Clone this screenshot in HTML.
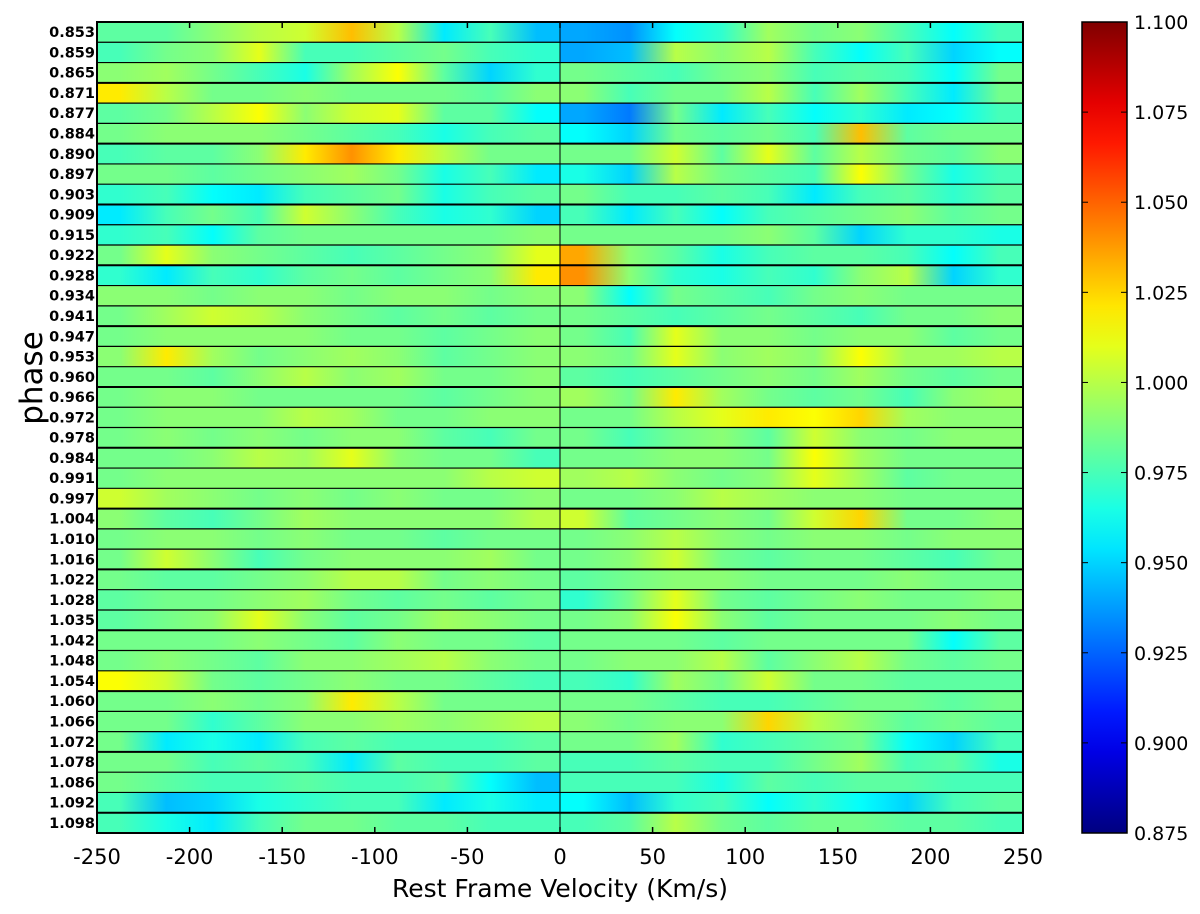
<!DOCTYPE html>
<html><head><meta charset="utf-8">
<style>
html,body{margin:0;padding:0;background:#fff;}
svg{display:block;font-family:"DejaVu Sans","Liberation Sans",sans-serif;}
</style></head>
<body>
<svg id="chart" width="1200" height="914" viewBox="0 0 1200 914">
<defs id="defs"></defs>
<g id="cells"></g>
<g id="grid"></g>
<g id="axes"></g>
<g id="cbar"></g>
</svg>
<script>
const phases = ["0.853","0.859","0.865","0.871","0.877","0.884","0.890","0.897","0.903","0.909","0.915","0.922","0.928","0.934","0.941","0.947","0.953","0.960","0.966","0.972","0.978","0.984","0.991","0.997","1.004","1.010","1.016","1.022","1.028","1.035","1.042","1.048","1.054","1.060","1.066","1.072","1.078","1.086","1.092","1.098"];
const velocityBins = [-237.5,-212.5,-187.5,-162.5,-137.5,-112.5,-87.5,-62.5,-37.5,-12.5,12.5,37.5,62.5,87.5,112.5,137.5,162.5,187.5,212.5,237.5];
const xTicks = [-250,-200,-150,-100,-50,0,50,100,150,200,250];
const cbarTicks = ["0.875","0.900","0.925","0.950","0.975","1.000","1.025","1.050","1.075","1.100"];
const flux = [
[.98,.98,.99,1.0,1.005,1.03,1.0,.955,.975,.945, .94,.935,.96,.97,.995,.985,.99,.975,.96,.975],
[.975,.985,.99,1.01,.975,.975,.98,.985,.975,.97, .94,.945,1.0,.99,1.0,.975,.96,.975,.95,.96],
[.99,.995,.985,.975,.965,.995,1.015,.98,.95,.97, .985,.98,.975,.985,.99,.975,.98,.975,.96,.985],
[1.02,1.0,.985,.985,.99,.985,.985,.985,.98,.99, .99,.975,.985,.985,1.0,.975,.995,.975,.955,.985],
[.98,.985,1.0,1.015,.99,1.005,1.01,.98,.98,.96, .94,.93,.985,.955,.975,.96,.97,.955,.96,.975],
[.985,.99,.99,.99,.985,.98,.975,.965,.975,.98, .96,.95,.985,.98,.985,.975,1.03,.98,.985,.985],
[.975,.98,.98,.99,1.02,1.04,1.02,1.0,.985,.985, .985,.985,1.005,.98,1.01,.98,1.0,.985,.98,.99],
[.985,.985,.98,.985,.99,.995,.985,.965,.975,.955, .965,.95,1.0,.985,.98,.975,1.015,.985,.965,.975],
[.97,.975,.96,.955,.975,.98,.985,.965,.975,.98, .985,.975,.975,.98,.975,.955,.975,.98,.97,.98],
[.955,.975,.985,.975,1.005,.99,.975,.965,.97,.95, .975,.955,.975,.96,.975,.98,.985,.99,.98,.985],
[.97,.975,.96,.98,.985,.985,.985,.985,.985,.99, .985,.985,.985,.985,.99,.98,.95,.97,.97,.965],
[.985,1.01,.99,.985,.98,.975,.98,.985,.99,1.01, 1.035,.99,.98,.965,.975,.98,.98,.975,.96,.975],
[.97,.955,.975,.97,.98,.985,.98,.985,.99,1.02, 1.04,.99,.97,.965,.975,.97,.99,1.0,.95,.97],
[.99,.99,.985,.99,.99,.985,.99,.99,.985,.99, .99,.96,.985,.98,.975,.985,.99,.985,.985,.985],
[.985,.995,1.005,1.0,.99,.985,.98,.985,.98,.985, .985,.98,.975,.98,.985,.98,.975,.985,.985,.99],
[.985,.99,.99,.99,.99,.985,.985,.98,.985,.99, .985,.975,1.01,.99,.99,.985,.99,.99,.98,.985],
[.99,1.02,.995,.985,.99,.995,.99,.98,.985,.99, .99,.985,1.01,.99,.995,.99,1.015,.995,.995,1.0],
[.985,.985,.98,.99,1.0,.99,.995,.985,.985,.99, .98,.975,.98,.985,.99,.985,.995,.985,.98,.985],
[.985,.99,.99,.985,.985,.985,.985,.98,.985,.99, .995,.985,1.02,.995,.985,.98,.985,.975,.99,.995],
[.985,.99,.99,.99,1.0,.995,.985,.985,.99,.99, .985,.985,1.0,1.01,1.02,1.015,1.025,.995,.99,.99],
[.985,.99,.985,.99,.985,.99,.99,.98,.975,.985, .985,.975,.985,.99,.98,1.005,.99,.985,.99,.99],
[.985,.985,.99,1.0,.995,1.01,.99,.985,.985,.975, .985,.985,.99,.99,.985,1.015,.995,.985,.985,.985],
[.985,.99,.99,.99,.99,.99,.99,.99,1.0,1.005, .995,1.0,.99,.985,.99,1.01,.995,.98,.985,.985],
[1.005,.995,.99,.985,.99,.985,.99,.985,.985,.99, .985,.985,.99,1.0,.995,.99,.99,.985,.985,.985],
[.99,.98,.975,.985,.995,.99,.99,.99,.99,1.0, 1.005,.98,.985,.99,.985,1.005,1.025,.985,.985,.99],
[.985,.99,.99,.985,.99,.985,.985,.98,.985,.985, .985,.99,1.0,.99,.985,.99,.99,.985,.99,.99],
[.985,1.005,.99,.975,.985,.99,.99,.99,.995,.985, .985,.99,1.005,.985,.98,.985,.985,.98,.975,.985],
[.985,.98,.98,.985,.99,1.0,1.0,.985,.99,.985, .98,.985,.99,.99,.985,.985,.985,.99,.985,.985],
[.98,.985,.985,.99,.995,.985,.98,.985,.98,.985, .97,.985,1.01,.985,.98,.985,.99,.985,.985,.99],
[.98,.985,.99,1.01,.99,.98,.985,.995,.99,.985, .985,.99,1.015,.99,.98,.985,.985,.985,.99,.985],
[.985,.985,.985,.99,.985,.98,.99,.985,.985,.98, .985,.985,.985,.98,.985,.985,.985,.985,.96,.98],
[.985,.99,.985,.98,.99,.99,.995,1.0,.99,.985, .985,.99,.99,1.0,.98,.99,1.0,.985,.98,.985],
[1.015,1.005,.985,.98,.985,.99,.985,.985,.98,.975, .975,.97,.995,.985,1.005,.985,.985,.98,.98,.98],
[.985,.985,.99,.985,.99,1.02,1.0,.985,.985,.985, .985,.985,.98,.975,.975,.98,.985,.985,.98,.985],
[.985,.985,.97,.98,.99,.99,.995,.99,.995,1.0, .99,.985,.99,.99,1.025,1.0,.99,.98,.985,.98],
[.985,.955,.965,.955,.975,.98,.975,.975,.975,.98, .985,.985,.995,.97,.975,.98,.985,.96,.95,.975],
[.985,.985,.975,.98,.975,.955,.98,.975,.975,.98, .975,.975,.98,.975,.975,.985,.995,.975,.98,.965],
[.985,.98,.975,.975,.98,.975,.975,.98,.96,.945, .975,.975,.975,.965,.98,.975,.98,.98,.975,.975],
[.975,.945,.95,.965,.97,.975,.975,.955,.965,.955, .96,.945,.97,.975,.96,.97,.96,.95,.975,.98],
[.975,.965,.955,.975,.985,.985,.98,.98,.975,.975, .975,.98,1.0,.985,.98,.985,.985,.98,.98,.975]
];
const vmin = 0.875, vmax = 1.1;

const NS = "http://www.w3.org/2000/svg";
const L = 97, R = 1023, T = 22, B = 833;
const xs = v => L + (v + 250) / 500 * (R - L);
const rowH = (B - T) / phases.length;
const ys = i => T + i * rowH;
function jet(v){
  let t = (v - vmin) / (vmax - vmin); t = Math.max(0, Math.min(1, t));
  const c = x => Math.round(255 * Math.max(0, Math.min(1, x)));
  return `rgb(${c(1.5-Math.abs(4*t-3))},${c(1.5-Math.abs(4*t-2))},${c(1.5-Math.abs(4*t-1))})`;
}
function mk(tag, attrs, parent){ const e = document.createElementNS(NS, tag); for (const k in attrs) e.setAttribute(k, attrs[k]); parent.appendChild(e); return e; }
const defs = document.getElementById('defs');
const cells = document.getElementById('cells');
const grid = document.getElementById('grid');
const axes = document.getElementById('axes');
const cbar = document.getElementById('cbar');
const x0 = xs(0);
flux.forEach((row, i) => {
  [[0, L, x0], [1, x0, R]].forEach(([half, a, b]) => {
    const g = mk('linearGradient', {id:`g${i}_${half}`, gradientUnits:'userSpaceOnUse', x1:a, y1:0, x2:b, y2:0}, defs);
    velocityBins.forEach((v, j) => {
      if ((half === 0 && v < 0) || (half === 1 && v > 0)) {
        const off = (xs(v) - a) / (b - a);
        mk('stop', {offset: off, 'stop-color': jet(row[j])}, g);
      }
    });
    const r = mk('rect', {x:a, y:ys(i), width:b-a, height:rowH+0.5, fill:`url(#g${i}_${half})`}, cells);
    
    
  });
});
for (let i = 1; i < phases.length; i++) {
  const l = mk('line', {x1:L, x2:R, y1:ys(i), y2:ys(i), stroke:'#000', 'stroke-width': (i % 3 === 0 ? 2 : 1.2)}, grid);
  
  
}
const zl = mk('line', {x1:x0, x2:x0, y1:T, y2:B, stroke:'#000', 'stroke-width':1}, grid);


const frame = mk('rect', {x:L, y:T, width:R-L, height:B-T, fill:'none', stroke:'#000', 'stroke-width':2}, axes);


xTicks.forEach(t => {
  const x = xs(t);
  mk('line', {x1:x, x2:x, y1:B, y2:B-6, stroke:'#000', 'stroke-width':1.5}, axes);
  mk('line', {x1:x, x2:x, y1:T, y2:T+6, stroke:'#000', 'stroke-width':1.5}, axes);
  const tx = mk('text', {x:x, y:864, 'text-anchor':'middle', 'font-size':21}, axes);
  tx.textContent = t;
  
  
});
phases.forEach((p, i) => {
  const tx = mk('text', {x:95, y:ys(i) + rowH/2 + 5, 'text-anchor':'end', 'font-size':14.5, 'font-weight':'bold'}, axes);
  tx.textContent = p;
  
  
});
const xt = mk('text', {x:560, y:897, 'text-anchor':'middle', 'font-size':25}, axes);
xt.textContent = 'Rest Frame Velocity (Km/s)';


const yt = mk('text', {x:0, y:0, 'text-anchor':'middle', 'font-size':31, transform:'translate(42,378) rotate(-90)'}, axes);
yt.textContent = 'phase';


const CL = 1082, CR = 1127;
const cg = mk('linearGradient', {id:'cbg', x1:0, y1:1, x2:0, y2:0}, defs);
for (let k = 0; k <= 20; k++) mk('stop', {offset:k/20, 'stop-color':jet(vmin + (vmax-vmin)*k/20)}, cg);
const cr = mk('rect', {x:CL, y:T, width:CR-CL, height:B-T, fill:'url(#cbg)', stroke:'#000', 'stroke-width':1.5}, cbar);


cbarTicks.forEach((t, k) => {
  const y = B - k * (B - T) / (cbarTicks.length - 1);
  mk('line', {x1:CR, x2:CR-6, y1:y, y2:y, stroke:'#000', 'stroke-width':1}, cbar);
  mk('line', {x1:CL, x2:CL+6, y1:y, y2:y, stroke:'#000', 'stroke-width':1}, cbar);
  const tx = mk('text', {x:1134, y:y+7, 'font-size':19}, cbar);
  tx.textContent = t;
  
  
});
</script>
</body></html>
